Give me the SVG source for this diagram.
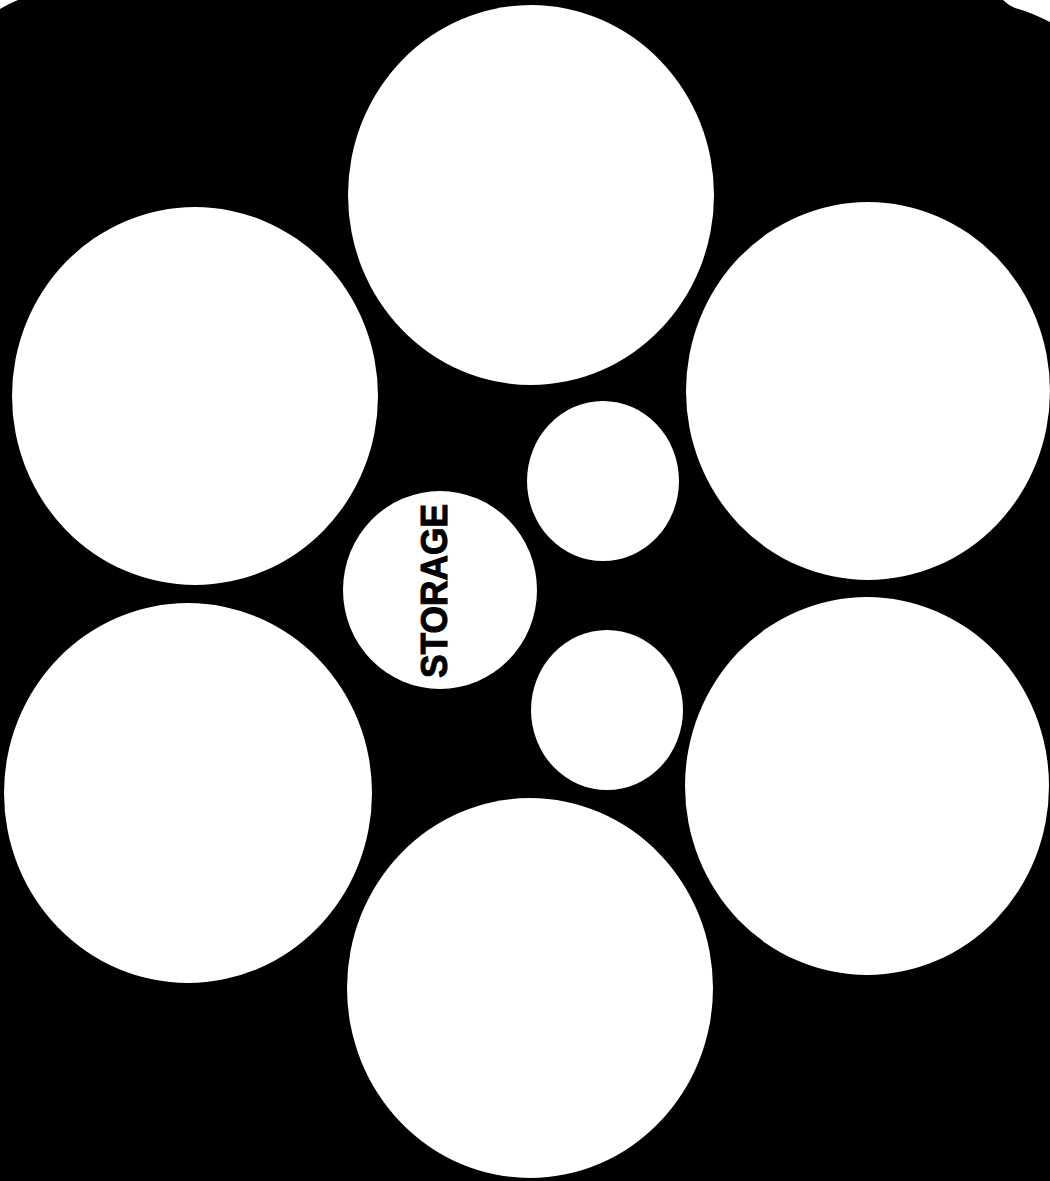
<svg xmlns="http://www.w3.org/2000/svg" width="1050" height="1181" viewBox="0 0 1050 1181">
<style>
.c{fill:#fff}
.lbl{font-family:"Liberation Sans",Arial,sans-serif;font-weight:bold;font-size:36px;fill:#000;stroke:#000;stroke-width:1}
</style>
<rect width="1050" height="1181" fill="#000"/>
<path class="c" d="M0 0 L18 0 Q8 4 0 9 Z"/>
<path class="c" d="M1003 0 L1050 0 L1050 22 Q1030 12 1015 8 Q1008 5 1003 0 Z"/>
<g id="circle-top"><ellipse class="c" cx="531" cy="195" rx="183" ry="190"/></g>
<g id="circle-upper-left"><ellipse class="c" cx="195" cy="396" rx="183" ry="189"/></g>
<g id="circle-upper-right"><ellipse class="c" cx="868" cy="391" rx="182" ry="189"/></g>
<g id="circle-lower-left"><ellipse class="c" cx="188" cy="793" rx="184" ry="190"/></g>
<g id="circle-lower-right"><ellipse class="c" cx="867" cy="786" rx="182" ry="189"/></g>
<g id="circle-bottom"><ellipse class="c" cx="530" cy="988" rx="183" ry="190"/></g>
<g id="circle-small-upper"><ellipse class="c" cx="603" cy="481" rx="76" ry="80"/></g>
<g id="circle-small-lower"><ellipse class="c" cx="607" cy="710" rx="76" ry="80"/></g>
<g id="storage">
<ellipse class="c" cx="440" cy="590" rx="97" ry="99"/>
<text class="lbl" transform="translate(447 591) rotate(-90)" text-anchor="middle" textLength="174" lengthAdjust="spacingAndGlyphs">STORAGE</text>
</g>
<g id="connectors"/>
</svg>
